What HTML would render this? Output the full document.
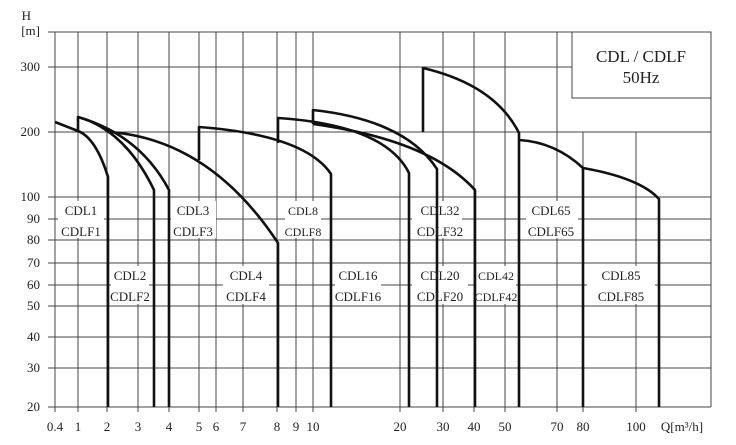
<!DOCTYPE html><html><head><style>body{margin:0;background:#fff}svg{display:block;font-family:"Liberation Serif",serif}</style></head><body>
<svg width="736" height="445" viewBox="0 0 736 445" xmlns="http://www.w3.org/2000/svg">
<g stroke="#444" stroke-width="1" fill="none">
<line x1="48" y1="32" x2="711" y2="32"/>
<line x1="48" y1="67" x2="572" y2="67"/>
<line x1="48" y1="132" x2="711" y2="132"/>
<line x1="48" y1="197" x2="711" y2="197"/>
<line x1="48" y1="219" x2="711" y2="219"/>
<line x1="48" y1="240" x2="711" y2="240"/>
<line x1="48" y1="263" x2="711" y2="263"/>
<line x1="48" y1="285" x2="711" y2="285"/>
<line x1="48" y1="306" x2="711" y2="306"/>
<line x1="48" y1="337" x2="711" y2="337"/>
<line x1="48" y1="368" x2="711" y2="368"/>
<line x1="48" y1="407" x2="711" y2="407"/>
<line x1="55" y1="32" x2="55" y2="412"/>
<line x1="78" y1="32" x2="78" y2="412"/>
<line x1="107" y1="32" x2="107" y2="412"/>
<line x1="138" y1="32" x2="138" y2="412"/>
<line x1="169" y1="32" x2="169" y2="412"/>
<line x1="199" y1="32" x2="199" y2="412"/>
<line x1="216" y1="32" x2="216" y2="412"/>
<line x1="243" y1="32" x2="243" y2="412"/>
<line x1="277" y1="32" x2="277" y2="412"/>
<line x1="296" y1="32" x2="296" y2="412"/>
<line x1="313" y1="32" x2="313" y2="412"/>
<line x1="400" y1="32" x2="400" y2="412"/>
<line x1="443" y1="32" x2="443" y2="412"/>
<line x1="474" y1="32" x2="474" y2="412"/>
<line x1="505" y1="32" x2="505" y2="412"/>
<line x1="557" y1="32" x2="557" y2="412"/>
<line x1="583" y1="132" x2="583" y2="412"/>
<line x1="636" y1="132" x2="636" y2="412"/>
<line x1="711" y1="32" x2="711" y2="407"/>
<rect x="572" y="32" width="139" height="66" fill="#fff"/>
</g>
<g fill="#fff">
<rect x="58" y="201" width="46" height="37"/>
<rect x="111" y="266" width="38" height="38"/>
<rect x="171" y="201" width="45" height="37"/>
<rect x="223" y="266" width="46" height="38"/>
<rect x="285" y="201" width="36" height="37"/>
<rect x="335" y="266" width="46" height="38"/>
<rect x="412" y="201" width="50" height="37"/>
<rect x="412" y="266" width="56" height="38"/>
<rect x="476" y="266" width="40" height="38"/>
<rect x="526" y="201" width="52" height="37"/>
<rect x="587" y="266" width="68" height="38"/>
</g>
<g stroke="#111" stroke-width="2.6" fill="none" stroke-linejoin="round">
<path d="M55,122 L78,131 Q96,138 108,177 L108,407"/>
<path d="M78,132 L78,117 Q125,130 154,190 L154,407"/>
<path d="M78,117 Q140,135 169,190 L169,407"/>
<path d="M110,132 Q210,140 278,243 L278,407"/>
<path d="M199,160 L199,127 Q305,135 331,174 L331,407"/>
<path d="M278,143 L278,118 Q385,125 409,173 L409,407"/>
<path d="M313,124 L313,110 Q405,120 437,169 L437,407"/>
<path d="M313,124 Q430,140 475,190 L475,407"/>
<path d="M423,132 L423,68 Q495,85 519,133 L519,407"/>
<path d="M519,140 Q555,142 583,168 L583,407"/>
<path d="M583,168 Q640,178 659,199 L659,407"/>
</g>
<g font-size="13" fill="#222" text-anchor="middle">
<text x="81" y="215">CDL1</text><text x="81" y="236">CDLF1</text>
<text x="130" y="280">CDL2</text><text x="130" y="301">CDLF2</text>
<text x="193" y="215">CDL3</text><text x="193" y="236">CDLF3</text>
<text x="246" y="280">CDL4</text><text x="246" y="301">CDLF4</text>
<text x="303" y="215" font-size="12">CDL8</text><text x="303" y="236" font-size="12">CDLF8</text>
<text x="358" y="280">CDL16</text><text x="358" y="301">CDLF16</text>
<text x="440" y="215">CDL32</text><text x="440" y="236">CDLF32</text>
<text x="440" y="280">CDL20</text><text x="440" y="301">CDLF20</text>
<text x="496" y="280" font-size="12">CDL42</text><text x="496" y="301" font-size="12">CDLF42</text>
<text x="551" y="215">CDL65</text><text x="551" y="236">CDLF65</text>
<text x="621" y="280">CDL85</text><text x="621" y="301">CDLF85</text>
<text x="641" y="62" font-size="17">CDL / CDLF</text>
<text x="641" y="83" font-size="17">50Hz</text>
</g>
<g font-size="13" fill="#222" text-anchor="end">
<text x="31" y="20">H</text>
<text x="40" y="35">[m]</text>
<text x="40" y="71">300</text><text x="40" y="136">200</text><text x="40" y="201">100</text>
<text x="40" y="223">90</text><text x="40" y="244">80</text><text x="40" y="267">70</text>
<text x="40" y="289">60</text><text x="40" y="310">50</text><text x="40" y="341">40</text>
<text x="40" y="372">30</text><text x="40" y="411">20</text>
</g>
<g font-size="13" fill="#222" text-anchor="middle">
<text x="55" y="431">0.4</text><text x="78" y="431">1</text><text x="107" y="431">2</text>
<text x="138" y="431">3</text><text x="169" y="431">4</text><text x="199" y="431">5</text>
<text x="216" y="431">6</text><text x="243" y="431">7</text><text x="277" y="431">8</text>
<text x="296" y="431">9</text><text x="313" y="431">10</text><text x="400" y="431">20</text>
<text x="443" y="431">30</text><text x="474" y="431">40</text><text x="505" y="431">50</text>
<text x="557" y="431">70</text><text x="583" y="431">80</text><text x="636" y="431">100</text>
<text x="682" y="431">Q[m³/h]</text>
</g>
</svg>
</body></html>
